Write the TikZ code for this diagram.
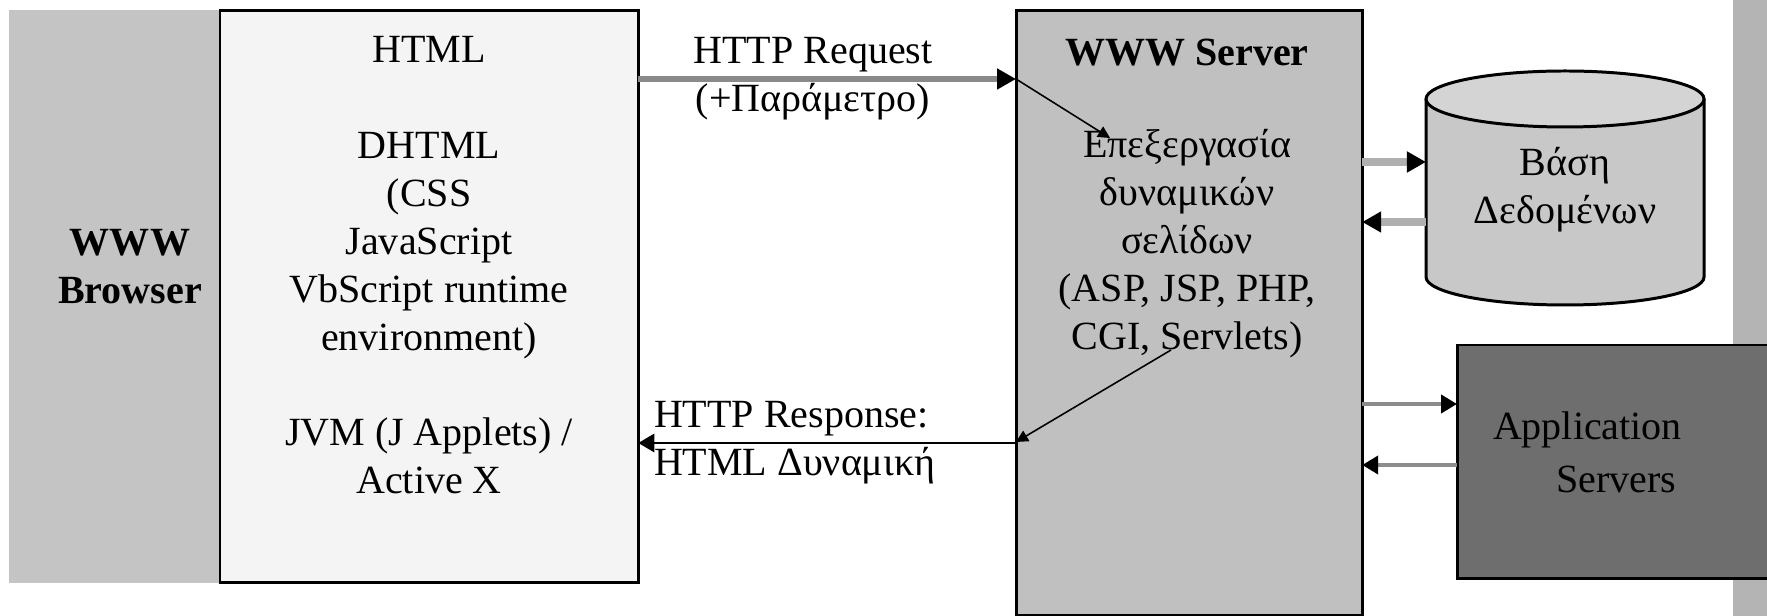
\documentclass[tikz,border=0pt]{standalone}
\usepackage{fontspec}
\setmainfont{Liberation Serif}
\usetikzlibrary{arrows.meta}

\definecolor{browsergray}{HTML}{C4C4C4}
\definecolor{pagegray}{HTML}{F4F4F4}
\definecolor{servergray}{HTML}{C0C0C0}
\definecolor{dbbody}{HTML}{C8C8C8}
\definecolor{dbtop}{HTML}{D4D4D4}
\definecolor{appgray}{HTML}{6E6E6E}
\definecolor{stripgray}{HTML}{B4B4B4}
\definecolor{linkgray}{HTML}{8A8A8A}
\definecolor{dblink}{HTML}{B0B0B0}
\definecolor{applink}{HTML}{8C8C8C}

\begin{document}
\begin{tikzpicture}[
  x=0.01cm, y=-0.01cm,
  every node/.style={inner sep=0pt, outer sep=0pt,
    font=\fontsize{11.38}{13.66}\selectfont},
  panel/.style={anchor=north west, draw=black, line width=0.85pt},
  txt/.style={align=center},
  bigtip/.style={-{Triangle[length=0.19cm, width=0.2cm, color=black]}},
  midtip/.style={-{Triangle[length=0.16cm, width=0.18cm, color=black]}},
  smalltip/.style={-{Triangle[length=0.12cm, width=0.12cm, color=black]}},
]
\useasboundingbox (0,0) rectangle (1767,616);
\fill[white] (0,0) rectangle (1767,616);

% client side
\node[anchor=north west, fill=browsergray, minimum width=2.11cm, minimum height=5.73cm] (browser) at (9,10) {};
\node[txt, font=\fontsize{11.38}{13.66}\selectfont\bfseries] (browsertext) at (130,267) {WWW\\Browser};
\node[panel, fill=pagegray, minimum width=4.18cm, minimum height=5.71cm] (html) at (220,11) {};
\node[txt] (htmltitle) at (429,49) {HTML};
\node[txt] (dhtml) at (429,246) {DHTML\\(CSS\\JavaScript\\VbScript runtime\\environment)};
\node[txt] (jvm) at (429,456) {JVM (J Applets) /\\Active X};

% server side
\node[anchor=north west, fill=stripgray, minimum width=0.34cm, minimum height=6.16cm] (strip) at (1733,0) {};
\node[panel, fill=servergray, minimum width=3.46cm, minimum height=6.04cm] (server) at (1016,11) {};
\node[txt, font=\fontsize{11.38}{13.66}\selectfont\bfseries] (servertitle) at (1187,53) {WWW Server};
\node[txt] (proc) at (1187,244) {Επεξεργασία\\δυναμικών\\σελίδων\\(ASP, JSP, PHP,\\CGI, Servlets)};

% database cylinder
\fill[dbbody] (1426,99) rectangle (1704,277);
\fill[dbbody] (1565,277) ellipse[x radius=139, y radius=28];
\draw[line width=0.85pt] (1426,99) -- (1426,277)
  arc[start angle=180, end angle=0, x radius=139, y radius=28] -- (1704,99);
\draw[line width=0.85pt, fill=dbtop] (1565,99) ellipse[x radius=139, y radius=28];
\node[txt, minimum width=2.78cm, minimum height=2.34cm] (db) at (1565,190) {Βάση\\Δεδομένων};

% application servers
\node[panel, fill=appgray, minimum width=3.30cm, minimum height=2.33cm] (app) at (1457,345) {};
\node[anchor=west] (apptext1) at (1493,430) {Application};
\node[anchor=west] (apptext2) at (1556,479) {Servers};

% request / response
\draw[bigtip, draw=linkgray, line width=1.5pt] (html.east |- 0,79) -- (server.west |- 0,79);
\node[txt] (reqlabel) at (813,79) {HTTP Request\\(+Παράμετρο)};
\coordinate (procin) at (1110,138);
\draw[smalltip, line width=0.45pt] (server.west |- 0,79) -- (procin);
\coordinate (procout) at (1171,350);
\draw[smalltip, line width=0.45pt] (procout) -- (server.west |- 0,442);
\draw[midtip, line width=0.85pt] (server.west |- 0,443) -- (html.east |- 0,443);
\node[anchor=west, align=left] (resplabel) at (654,443) {HTTP Response:\\HTML Δυναμική};

% database and application links
\draw[bigtip, draw=dblink, line width=2.2pt] (server.east |- 0,162) -- (db.west |- 0,162);
\draw[bigtip, draw=dblink, line width=2.2pt] (db.west |- 0,222) -- (server.east |- 0,222);
\draw[midtip, draw=applink, line width=1.4pt] (server.east |- 0,404) -- (app.west |- 0,404);
\draw[midtip, draw=applink, line width=1.4pt] (app.west |- 0,465) -- (server.east |- 0,465);
\end{tikzpicture}
\end{document}
